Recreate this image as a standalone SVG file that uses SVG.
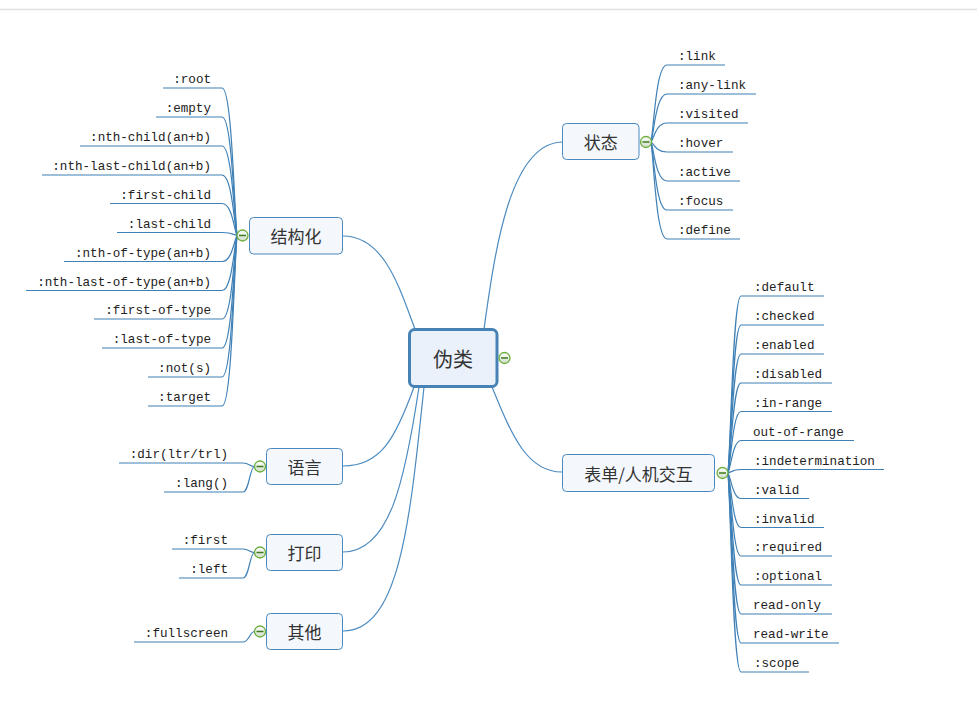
<svg xmlns="http://www.w3.org/2000/svg" width="977" height="719" viewBox="0 0 977 719">
<defs>
<linearGradient id="cg" x1="0" y1="0" x2="0" y2="1">
<stop offset="0" stop-color="#ffffff"/>
<stop offset="1" stop-color="#cfdcc8"/>
</linearGradient>
<style>
.bg{fill:#ffffff}
.top{stroke:#e0e0e0;stroke-width:1.5}
.main{fill:#eaf1fa;stroke:#4782b4;stroke-width:3}
.sub{fill:#f4f8fd;stroke:#4a88be;stroke-width:1}
.mt{font-family:"Noto Sans CJK SC","Noto Sans",sans-serif;font-size:20px;fill:#333;text-anchor:middle;dominant-baseline:central}
.st{font-family:"Noto Sans CJK SC","Noto Sans",sans-serif;font-size:17px;fill:#333;text-anchor:middle;dominant-baseline:central}
.lt{font-family:"Liberation Mono",monospace;font-size:12.6px;fill:#222}
.le{text-anchor:end}
.c{fill:none;stroke:#4c8bc0;stroke-width:1.2}
.l{fill:none;stroke:#3f80b6;stroke-width:1.2}
.tog circle{fill:url(#cg);stroke:#6aae3a;stroke-width:1.3}
.tog line{stroke:#3d7a1e;stroke-width:1.5}
</style>
</defs>
<rect class="bg" x="0" y="0" width="977" height="719"/>
<line class="top" x1="0" y1="9.5" x2="977" y2="9.5"/>

<g id="connectors">
<path class="c" d="M484,329 C495,250 510,142 563,142"/>
<path class="c" d="M415,329 C400,290 385,236 343,236"/>
<path class="c" d="M492,387 C510,430 525,472 562,472"/>
<path class="c" d="M414,387 C395,440 380,466 343,466"/>
<path class="c" d="M419,387 C405,480 390,552 343,552"/>
<path class="c" d="M424,387 C410,520 400,631 343,631"/>

<!-- 结构化 leaves -->
<path class="l" d="M163,88 H222 C232,88 234,206 237,235.5"/>
<path class="l" d="M156,117 H222 C232,117 234,212 237,235.5"/>
<path class="l" d="M80,146 H222 C232,146 234,217.6 237,235.5"/>
<path class="l" d="M42,175 H222 C232,175 234,223.4 237,235.5"/>
<path class="l" d="M110,203.5 H222 C232,203.5 234,229.1 237,235.5"/>
<path class="l" d="M117,232.5 H222 C232,232.5 234,234.9 237,235.5"/>
<path class="l" d="M64,261.5 H222 C232,261.5 234,240.7 237,235.5"/>
<path class="l" d="M26,290.5 H222 C232,290.5 234,246.5 237,235.5"/>
<path class="l" d="M94,319 H222 C232,319 234,252.2 237,235.5"/>
<path class="l" d="M102,348 H222 C232,348 234,258 237,235.5"/>
<path class="l" d="M148,377 H222 C232,377 234,263.8 237,235.5"/>
<path class="l" d="M148,406 H222 C232,406 234,269.6 237,235.5"/>

<!-- 状态 leaves -->
<path class="l" d="M651,142 C654,126.6 656,65 667,65 H725"/>
<path class="l" d="M651,142 C654,132.4 656,94 667,94 H756"/>
<path class="l" d="M651,142 C654,138.2 656,123 667,123 H748"/>
<path class="l" d="M651,142 C654,144 656,152 667,152 H733"/>
<path class="l" d="M651,142 C654,149.8 656,181 667,181 H740"/>
<path class="l" d="M651,142 C654,155.6 656,210 667,210 H733"/>
<path class="l" d="M651,142 C654,161.4 656,239 667,239 H740"/>

<!-- 表单 leaves -->
<path class="l" d="M728,473 C731,437.6 733,296 741,296 H824"/>
<path class="l" d="M728,473 C731,443.4 733,325 741,325 H824"/>
<path class="l" d="M728,473 C731,449.2 733,354 741,354 H824"/>
<path class="l" d="M728,473 C731,455 733,383 741,383 H832"/>
<path class="l" d="M728,473 C731,460.7 733,411.5 741,411.5 H832"/>
<path class="l" d="M728,473 C731,466.5 733,440.5 741,440.5 H854"/>
<path class="l" d="M728,473 C731,472.3 733,469.5 741,469.5 H884"/>
<path class="l" d="M728,473 C731,478 733,498.5 741,498.5 H809"/>
<path class="l" d="M728,473 C731,483.8 733,527.5 741,527.5 H824"/>
<path class="l" d="M728,473 C731,489.6 733,556 741,556 H832"/>
<path class="l" d="M728,473 C731,495.4 733,585 741,585 H832"/>
<path class="l" d="M728,473 C731,501.2 733,614 741,614 H832"/>
<path class="l" d="M728,473 C731,507 733,643 741,643 H839"/>
<path class="l" d="M728,473 C731,512.8 733,672 741,672 H809"/>

<!-- 语言 / 打印 / 其他 leaves -->
<path class="l" d="M119,463 H243 C249,463 250,466.5 254.5,466.5"/>
<path class="l" d="M164,492 H243 C249,492 250,466.5 254.5,466.5"/>
<path class="l" d="M172,549 H243 C249,549 250,552.5 254.5,552.5"/>
<path class="l" d="M179,578 H243 C249,578 250,552.5 254.5,552.5"/>
<path class="l" d="M134,642 H243 C249,642 250,631.5 254.5,631.5"/>
</g>

<g id="root">
<rect class="main" x="409.5" y="329.5" width="87.5" height="57" rx="5"/>
<text class="mt" x="453" y="358">伪类</text>
<g class="tog"><circle cx="504.5" cy="358" r="5.5"/><line x1="501" y1="358" x2="508" y2="358"/></g>
</g>

<g id="n-zhuangtai">
<rect class="sub" x="562.5" y="123.5" width="76.5" height="36" rx="4"/>
<text class="st" x="600.7" y="141.5">状态</text>
<g class="tog"><circle cx="646" cy="142" r="5.5"/><line x1="642.5" y1="142" x2="649.5" y2="142"/></g>
<text class="lt" x="678" y="60">:link</text>
<text class="lt" x="678" y="89">:any-link</text>
<text class="lt" x="678" y="118">:visited</text>
<text class="lt" x="678" y="147">:hover</text>
<text class="lt" x="678" y="176">:active</text>
<text class="lt" x="678" y="205">:focus</text>
<text class="lt" x="678" y="234">:define</text>
</g>

<g id="n-jiegouhua">
<rect class="sub" x="249.5" y="217.5" width="93" height="36.5" rx="4"/>
<text class="st" x="296" y="235.7">结构化</text>
<g class="tog"><circle cx="242.5" cy="235.5" r="5.5"/><line x1="239" y1="235.5" x2="246" y2="235.5"/></g>
<text class="lt le" x="211" y="83">:root</text>
<text class="lt le" x="211" y="112">:empty</text>
<text class="lt le" x="211" y="141">:nth-child(an+b)</text>
<text class="lt le" x="211" y="170">:nth-last-child(an+b)</text>
<text class="lt le" x="211" y="198.5">:first-child</text>
<text class="lt le" x="211" y="227.5">:last-child</text>
<text class="lt le" x="211" y="256.5">:nth-of-type(an+b)</text>
<text class="lt le" x="211" y="285.5">:nth-last-of-type(an+b)</text>
<text class="lt le" x="211" y="314">:first-of-type</text>
<text class="lt le" x="211" y="343">:last-of-type</text>
<text class="lt le" x="211" y="372">:not(s)</text>
<text class="lt le" x="211" y="401">:target</text>
</g>

<g id="n-biaodan">
<rect class="sub" x="562.5" y="454.5" width="152" height="37" rx="4"/>
<text class="st" x="638.5" y="473">表单/人机交互</text>
<g class="tog"><circle cx="722.5" cy="473" r="5.5"/><line x1="719" y1="473" x2="726" y2="473"/></g>
<text class="lt" x="754" y="291">:default</text>
<text class="lt" x="754" y="320">:checked</text>
<text class="lt" x="754" y="349">:enabled</text>
<text class="lt" x="754" y="378">:disabled</text>
<text class="lt" x="754" y="406.5">:in-range</text>
<text class="lt" x="753" y="435.5">out-of-range</text>
<text class="lt" x="754" y="464.5">:indetermination</text>
<text class="lt" x="754" y="493.5">:valid</text>
<text class="lt" x="754" y="522.5">:invalid</text>
<text class="lt" x="754" y="551">:required</text>
<text class="lt" x="754" y="580">:optional</text>
<text class="lt" x="753" y="609">read-only</text>
<text class="lt" x="753" y="638">read-write</text>
<text class="lt" x="754" y="667">:scope</text>
</g>

<g id="n-yuyan">
<rect class="sub" x="266.5" y="448.5" width="76" height="36" rx="4"/>
<text class="st" x="304.5" y="466.5">语言</text>
<g class="tog"><circle cx="260" cy="466.5" r="5.5"/><line x1="256.5" y1="466.5" x2="263.5" y2="466.5"/></g>
<text class="lt le" x="228" y="458">:dir(ltr/trl)</text>
<text class="lt le" x="228" y="487">:lang()</text>
</g>

<g id="n-dayin">
<rect class="sub" x="266.5" y="534.5" width="76" height="36" rx="4"/>
<text class="st" x="304.5" y="552.5">打印</text>
<g class="tog"><circle cx="260" cy="552.5" r="5.5"/><line x1="256.5" y1="552.5" x2="263.5" y2="552.5"/></g>
<text class="lt le" x="228" y="544">:first</text>
<text class="lt le" x="228" y="573">:left</text>
</g>

<g id="n-qita">
<rect class="sub" x="266.5" y="613.5" width="76" height="36" rx="4"/>
<text class="st" x="304.5" y="631.5">其他</text>
<g class="tog"><circle cx="260" cy="631.5" r="5.5"/><line x1="256.5" y1="631.5" x2="263.5" y2="631.5"/></g>
<text class="lt le" x="228" y="637">:fullscreen</text>
</g>
</svg>
